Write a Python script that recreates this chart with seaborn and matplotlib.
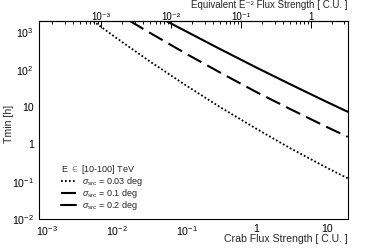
import numpy as np
import pandas as pd
import matplotlib
matplotlib.use("Agg")
import matplotlib.pyplot as plt
import seaborn as sns
from matplotlib.ticker import FixedLocator, FixedFormatter, LogLocator, NullFormatter

# ---------------- data ----------------
flux_003 = [0.0046, 0.01, 0.03, 0.1, 0.3, 1, 3, 10, 20]
tmin_003 = [2000, 695, 165, 37, 10, 2.6, 0.8, 0.24, 0.125]

flux_01 = [0.0155, 0.03, 0.1, 0.3, 1, 3, 10, 20]
tmin_01 = [2000, 960, 262, 84, 25, 8.9, 2.95, 1.6]

flux_02 = [0.051, 0.1, 0.3, 1, 3, 10, 20]
tmin_02 = [2000, 1040, 356, 113, 41, 13.8, 7.5]

labels = [r"$\sigma_{\rm src}$ = 0.03 deg", r"$\sigma_{\rm src}$ = 0.1 deg", r"$\sigma_{\rm src}$ = 0.2 deg"]
legend_title = r"E $\in$ [10-100] TeV"

x_ticks = [1e-3, 1e-2, 1e-1, 1, 10]
x_ticklabels = [r"$10^{-3}$", r"$10^{-2}$", r"$10^{-1}$", "1", "10"]
y_ticks = [1e-2, 1e-1, 1, 10, 100, 1000]
y_ticklabels = [r"$10^{-2}$", r"$10^{-1}$", "1", "10", r"$10^{2}$", r"$10^{3}$"]
top_ticks = [1e-3, 1e-2, 1e-1, 1]
top_ticklabels = ["10\u207b\u00b3", "10\u207b\u00b2", "10\u207b\u00b9", "1"]
equiv_factor = 6.0  # Crab flux -> equivalent E^-2 flux

xlabel = "Crab Flux Strength [ C.U. ]"
ylabel = "Tmin [h]"
toplabel = "Equivalent E\u207b\u00b2 Flux Strength [ C.U. ]"

# ---------------- style ----------------
sns.set_theme(style="white")
plt.rcParams["font.family"] = ["Liberation Sans", "DejaVu Sans"]
plt.rcParams["mathtext.fontset"] = "custom"
plt.rcParams["mathtext.rm"] = "Liberation Sans"
plt.rcParams["mathtext.it"] = "Liberation Sans:italic"
plt.rcParams["mathtext.sf"] = "Liberation Sans"

W, H = 386, 248
fig = plt.figure(figsize=(W / 100, H / 100), dpi=100)
L, R, T, B = 38.7, 347.7, 21.0, 219.3
ax = fig.add_axes([L / W, 1 - B / H, (R - L) / W, (B - T) / H])

d1 = pd.DataFrame({"flux": flux_003, "tmin": tmin_003})
d2 = pd.DataFrame({"flux": flux_01, "tmin": tmin_01})
d3 = pd.DataFrame({"flux": flux_02, "tmin": tmin_02})

sns.lineplot(data=d1, x="flux", y="tmin", ax=ax, color="black", lw=1.3,
             linestyle=(0, (1, 1.2)), label=labels[0])
sns.lineplot(data=d2, x="flux", y="tmin", ax=ax, color="black", lw=1.5,
             linestyle=(0, (7.5, 3.2)), label=labels[1])
sns.lineplot(data=d3, x="flux", y="tmin", ax=ax, color="black", lw=1.5,
             linestyle="-", label=labels[2])

ax.set_xscale("log")
ax.set_yscale("log")
ax.set_xlim(7.7e-4, 20)
ax.set_ylim(0.01, 2000)
ax.set_xlabel("")
ax.set_ylabel("")

fs = 7.6
ax.xaxis.set_major_locator(FixedLocator(x_ticks))
ax.xaxis.set_major_formatter(FixedFormatter(x_ticklabels))
ax.xaxis.set_minor_locator(LogLocator(base=10, subs=np.arange(2, 10), numticks=20))
ax.xaxis.set_minor_formatter(NullFormatter())
ax.yaxis.set_major_locator(FixedLocator(y_ticks))
ax.yaxis.set_major_formatter(FixedFormatter(y_ticklabels))
ax.yaxis.set_minor_locator(LogLocator(base=10, subs=np.arange(2, 10), numticks=20))
ax.yaxis.set_minor_formatter(NullFormatter())

ax.tick_params(which="both", direction="in", top=False, right=False,
               color="black", width=0.7, labelsize=fs, labelcolor="black")
ax.tick_params(which="major", length=5)
ax.tick_params(which="minor", length=2.5)
ax.tick_params(axis="x", which="major", pad=3.5)
ax.tick_params(axis="y", which="major", pad=3.5)

for sp in ax.spines.values():
    sp.set_color("black")
    sp.set_linewidth(0.8)

secax = ax.secondary_xaxis("top", functions=(lambda x: x / equiv_factor,
                                             lambda x: x * equiv_factor))
secax.xaxis.set_major_locator(FixedLocator(top_ticks))
secax.xaxis.set_major_formatter(FixedFormatter(top_ticklabels))
secax.xaxis.set_minor_locator(LogLocator(base=10, subs=np.arange(2, 10), numticks=20))
secax.xaxis.set_minor_formatter(NullFormatter())
secax.tick_params(which="both", direction="in", color="black", width=0.7,
                  labelsize=7.0, labelcolor="black", pad=-0.4)
secax.tick_params(which="major", length=5)
secax.tick_params(which="minor", length=2.5)
secax.spines["top"].set_color("black")
secax.spines["top"].set_linewidth(0.8)

fig.text(R / W, 1 - 0.2 / H, toplabel, ha="right", va="top", fontsize=7.0)
fig.text(R / W, 1 - 239 / H, xlabel, ha="right", va="center", fontsize=fs)
fig.text(9.5 / W, 1 - 124 / H, ylabel, ha="center", va="center", rotation=90, fontsize=fs)

leg = ax.legend(loc="lower left", bbox_to_anchor=((61 - L) / (R - L), (B - 212) / (B - T)),
                frameon=False, fontsize=6.5, title=legend_title, title_fontsize=6.5,
                handlelength=1.7, handletextpad=0.6, labelspacing=-0.12,
                borderpad=0, borderaxespad=0, alignment="left")

fig.savefig("out.png", dpi=100)
